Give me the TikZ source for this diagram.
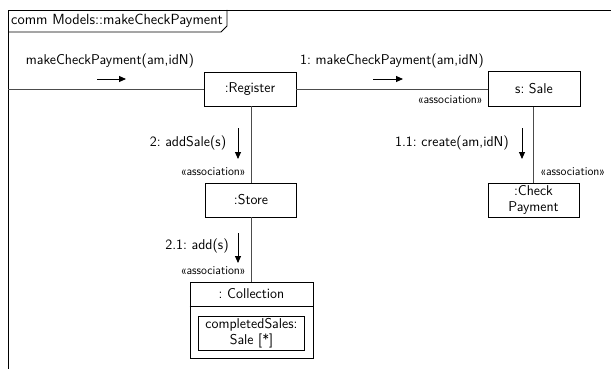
\documentclass[tikz,border=0pt]{standalone}
\usepackage{fontspec}
\usetikzlibrary{arrows.meta}
\begin{document}
\frenchspacing
\begin{tikzpicture}[x=1pt,y=-1pt,
  every node/.style={font=\sffamily\fontsize{14.2}{15}\selectfont, inner sep=0pt},
  obj/.style={draw=black, line width=0.9pt, fill=white, minimum width=91pt, minimum height=34pt, align=center},
  link/.style={draw=black!70, line width=0.9pt},
  msg/.style={line width=0.9pt, -{Triangle[length=7pt,width=6pt]}},
  stereo/.style={font=\sffamily\fontsize{12}{13}\selectfont},
  frm/.style={draw=black, line width=0.9pt}]
\useasboundingbox (0,0) rectangle (611,369);
% frame
\draw[frm] (8,372) -- (8,10) -- (614,10);
\draw[frm] (8,32) -- (221,32) -- (227,26) -- (227,10);
\node[anchor=west, font=\sffamily\fontsize{14.7}{16}\selectfont] (title) at (11,21) {comm Models::makeCheckPayment};
% objects
\node[obj, minimum width=92pt] (reg) at (250,89) {:Register};
\node[obj, minimum width=92pt, minimum height=35pt] (sale) at (534,89) {s: Sale};
\node[obj] (store) at (251,200) {:Store};
\node[obj, font=\sffamily\fontsize{14.2}{16}\selectfont] (pay) at (533.5,200) {:Check\\Payment};
\node[draw=black, line width=0.9pt, minimum width=123pt, minimum height=76pt] (coll) at (251.5,320) {};
\node (colltitle) at (251.5,294) {: Collection};
\draw[line width=0.9pt] (coll.west |- 0,306) -- (coll.east |- 0,306);
\node[draw=black, line width=0.9pt, minimum width=106pt, minimum height=34pt, align=center,
      font=\sffamily\fontsize{14.2}{16}\selectfont] (attr) at (251.5,333) {completedSales:\\Sale [*]};
% links
\coordinate (entry) at (8,89);
\draw[link] (entry) -- (reg.west);
\draw[link] (reg.east) -- (sale.west);
\draw[link] (reg.south -| store.north) -- (store.north);
\draw[link] (sale.south -| pay.north) -- (pay.north);
\draw[link] (store.south) -- (store.south |- coll.north);
% messages
\node (m0) at (110,61) {makeCheckPayment(am,idN)};
\coordinate (m0a) at (97,79); \coordinate (m0b) at (126,79);
\draw[msg] (m0a) -- (m0b);
\node (m1) at (392,61) {1: makeCheckPayment(am,idN)};
\coordinate (m1a) at (373,79); \coordinate (m1b) at (403,79);
\draw[msg] (m1a) -- (m1b);
\node[stereo, anchor=east] (s1) at (483,100) {«association»};
\node (m2) at (188,143) {2: addSale(s)};
\coordinate (m2a) at (238,128); \coordinate (m2b) at (238,159);
\draw[msg] (m2a) -- (m2b);
\node[stereo, anchor=east] (s2) at (246,172) {«association»};
\node (m11) at (452,143) {1.1: create(am,idN)};
\coordinate (m11a) at (522,128); \coordinate (m11b) at (522,159);
\draw[msg] (m11a) -- (m11b);
\node[stereo, anchor=west] (s11) at (540,172) {«association»};
\node (m21) at (197,246) {2.1: add(s)};
\coordinate (m21a) at (238,233); \coordinate (m21b) at (238,263);
\draw[msg] (m21a) -- (m21b);
\node[stereo, anchor=east] (s21) at (246,271) {«association»};
\end{tikzpicture}
\end{document}
